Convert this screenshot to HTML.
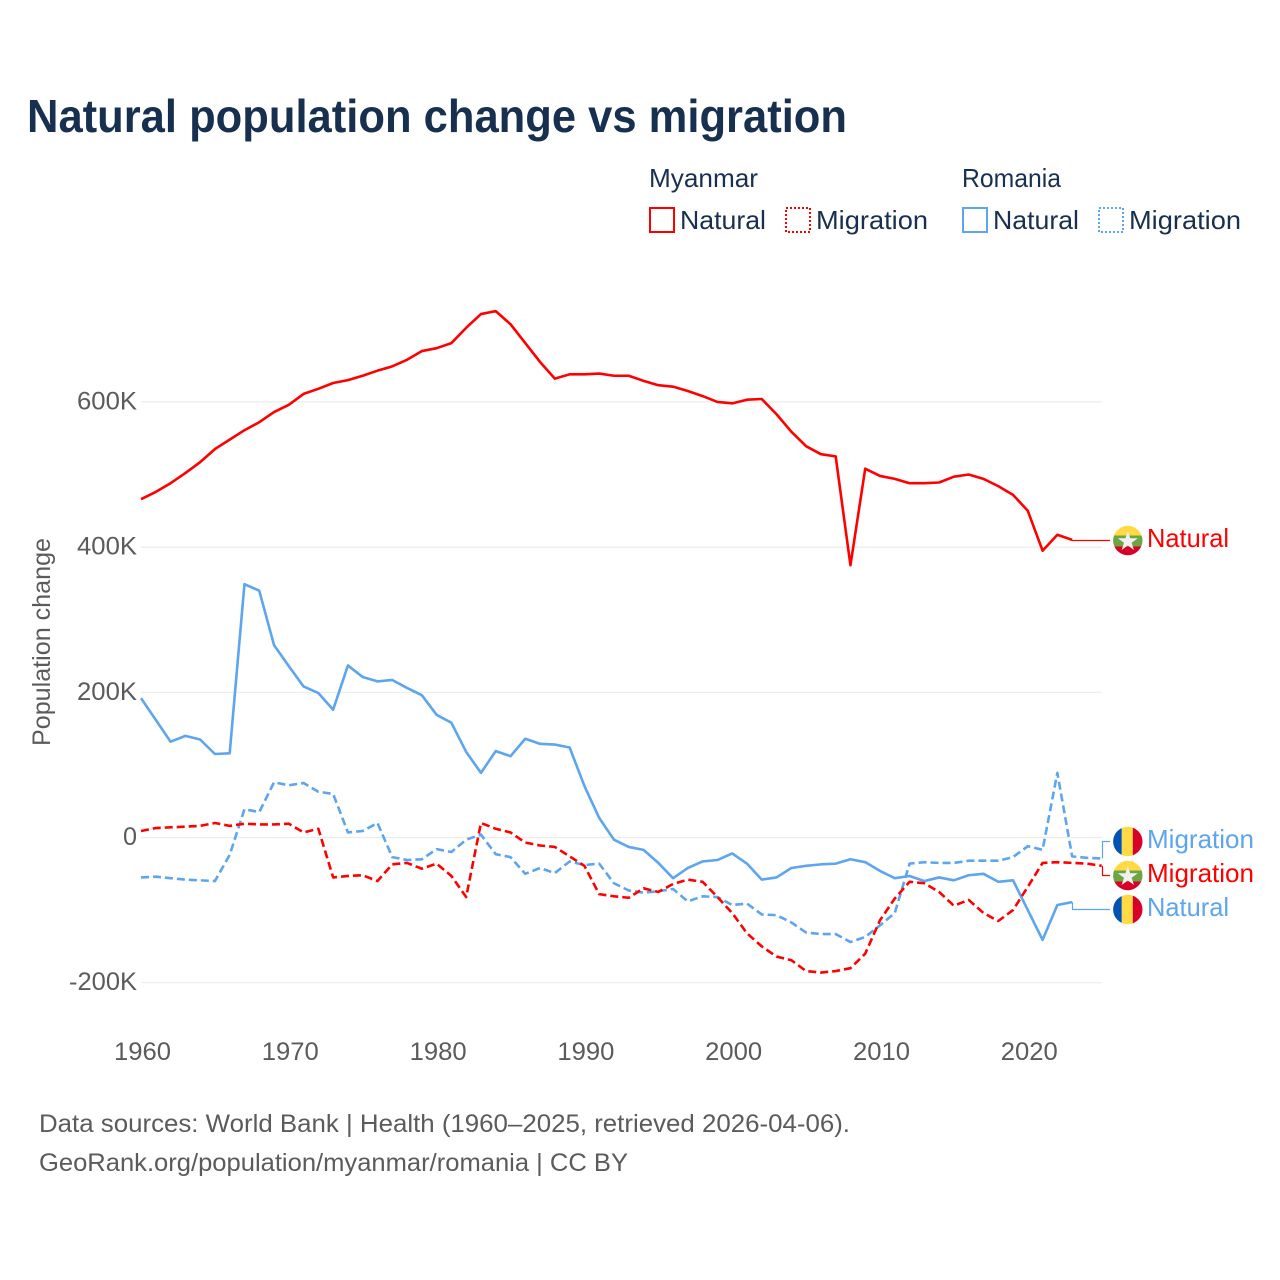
<!DOCTYPE html>
<html lang="en">
<head>
<meta charset="utf-8">
<title>Natural population change vs migration</title>
<style>
html,body{margin:0;padding:0;background:#fff}
svg{display:block}
text{font-family:"Liberation Sans",Arial,sans-serif}
.dark{fill:#18304f;font-size:26px}
.grey{fill:#5b5b5b;font-size:25px}
</style>
</head>
<body>
<svg id="chart" xmlns="http://www.w3.org/2000/svg" width="1280" height="1280" viewBox="0 0 1280 1280">
<defs>
<clipPath id="flag-clip"><circle cx="0" cy="0" r="14.7"/></clipPath>
<g id="flag-mm" clip-path="url(#flag-clip)">
<rect x="-15" y="-15" width="30" height="10" fill="#ffda44"/>
<rect x="-15" y="-5" width="30" height="11" fill="#6da544"/>
<rect x="-15" y="6" width="30" height="10" fill="#d80027"/>
<polygon transform="translate(0,1)" fill="#f0f0f0" points="0,-10.5 2.35,-3.24 9.99,-3.24 3.8,1.24 6.17,8.49 0,4 -6.17,8.49 -3.8,1.24 -9.99,-3.24 -2.35,-3.24"/>
</g>
<g id="flag-ro" clip-path="url(#flag-clip)">
<rect x="-15" y="-15" width="9" height="30" fill="#0052b4"/>
<rect x="-6" y="-15" width="11" height="30" fill="#ffda44"/>
<rect x="5" y="-15" width="10" height="30" fill="#d80027"/>
</g>
</defs>

<text x="27" y="132" font-size="46" font-weight="700" fill="#18304f" textLength="820" lengthAdjust="spacingAndGlyphs">Natural population change vs migration</text>

<g>
<text class="dark" x="649" y="187" textLength="109" lengthAdjust="spacingAndGlyphs">Myanmar</text>
<text class="dark" x="962" y="187" textLength="99" lengthAdjust="spacingAndGlyphs">Romania</text>
<g>
<rect x="650" y="208" width="24" height="24" fill="none" stroke="#ff0000" stroke-width="2"/>
<text class="dark" x="680" y="229" textLength="86" lengthAdjust="spacingAndGlyphs">Natural</text>
</g>
<g>
<rect x="786" y="208" width="24" height="24" fill="none" stroke="#ff0000" stroke-width="2" stroke-dasharray="2,2"/>
<text class="dark" x="816" y="229" textLength="112" lengthAdjust="spacingAndGlyphs">Migration</text>
</g>
<g>
<rect x="963" y="208" width="24" height="24" fill="none" stroke="#5da5ee" stroke-width="2"/>
<text class="dark" x="993" y="229" textLength="86" lengthAdjust="spacingAndGlyphs">Natural</text>
</g>
<g>
<rect x="1099" y="208" width="24" height="24" fill="none" stroke="#5da5ee" stroke-width="2" stroke-dasharray="2,2"/>
<text class="dark" x="1129" y="229" textLength="112" lengthAdjust="spacingAndGlyphs">Migration</text>
</g>
</g>

<text class="grey" transform="translate(50,746) rotate(-90)" x="0" y="0" textLength="208" lengthAdjust="spacingAndGlyphs">Population change</text>

<g id="grid"></g>
<g id="y-ticks"></g>
<g id="x-ticks"></g>
<g id="series"></g>

<text class="grey" x="39" y="1132" textLength="811" lengthAdjust="spacingAndGlyphs">Data sources: World Bank | Health (1960–2025, retrieved 2026-04-06).</text>
<text class="grey" x="39" y="1171" textLength="589" lengthAdjust="spacingAndGlyphs">GeoRank.org/population/myanmar/romania | CC BY</text>
</svg>

<script>
const startYear = 1960;
const yTickValues = [600, 400, 200, 0, -200];
const yTickLabels = ["600K", "400K", "200K", "0", "-200K"];
const xTickYears = [1960, 1970, 1980, 1990, 2000, 2010, 2020];

// Values in thousands of people per year, starting at 1960.
const myanmarNatural = [466,476,488,502,517,535,548,561,572,586,596,611,618,626,630,636,643,649,658,670,674,681,702,721,725,707,681,655,632,638,638,639,636,636,629,623,621,615,608,600,598,603,604,583,559,539,528,525,375,508,498,494,488,488,489,497,500,494,484,472,450,395,417,410];
const myanmarMigration = [9,13,14,15,16,20,16,19,18,18,19,7,12,-55,-53,-52,-60,-37,-35,-43,-36,-53,-82,20,12,7,-7,-11,-13,-26,-39,-78,-81,-83,-70,-75,-64,-58,-61,-82,-104,-132,-150,-164,-169,-184,-186,-184,-180,-160,-114,-84,-61,-63,-75,-94,-86,-104,-115,-100,-68,-35,-34,-35,-36,-39];
const romaniaNatural = [192,162,132,140,135,115,116,349,340,265,236,208,199,176,237,221,215,217,206,196,169,158,118,89,119,112,136,129,128,124,71,27,-3,-13,-17,-35,-56,-42,-33,-31,-22,-36,-58,-55,-42,-39,-37,-36,-30,-34,-46,-56,-53,-60,-55,-59,-52,-50,-61,-59,-100,-141,-93,-89];
const romaniaMigration = [-55,-54,-56,-58,-59,-60,-24,39,35,76,72,75,63,60,7,9,20,-27,-31,-30,-16,-20,-3,4,-23,-27,-50,-42,-49,-33,-38,-36,-63,-73,-76,-74,-71,-88,-81,-82,-93,-91,-106,-107,-117,-131,-133,-133,-144,-137,-121,-104,-36,-34,-35,-35,-32,-32,-32,-27,-12,-17,89,-26,-28,-29];

const SVGNS = "http://www.w3.org/2000/svg";
const plot = { left: 141, right: 1102, yearStep: 14.78, zeroY: 837.5, pxPerK: 0.726 };
const xScale = function (year) { return plot.left + (year - startYear) * plot.yearStep; };
const yScale = function (value) { return plot.zeroY - value * plot.pxPerK; };

function make(tag, attrs, parent, content) {
  const el = document.createElementNS(SVGNS, tag);
  Object.keys(attrs).forEach(function (k) { el.setAttribute(k, attrs[k]); });
  if (content !== undefined) el.textContent = content;
  parent.appendChild(el);
  return el;
}

const gridGroup = document.getElementById("grid");
const yTickGroup = document.getElementById("y-ticks");
const xTickGroup = document.getElementById("x-ticks");
const seriesGroup = document.getElementById("series");

yTickValues.forEach(function (value, i) {
  const y = yScale(value);
  const line = make("line", { x1: plot.left, x2: plot.right, y1: y, y2: y, stroke: "#ececec", "stroke-width": 1.2 }, gridGroup);
  
  
  const label = make("text", { x: 137, y: y + 7.5, "text-anchor": "end", class: "grey", textLength: yTickLabels[i].length === 1 ? 14 : (yTickLabels[i].length === 5 ? 68 : 60), lengthAdjust: "spacingAndGlyphs" }, yTickGroup, yTickLabels[i]);
  
  
});

xTickYears.forEach(function (year) {
  const label = make("text", { x: xScale(year) + 1.5, y: 1060, "text-anchor": "middle", class: "grey", textLength: 57, lengthAdjust: "spacingAndGlyphs" }, xTickGroup, String(year));
  
  
});

function drawSeries(key, values, color, dash, flagId, labelText, labelCenterY, labelWidth) {
  const group = make("g", {}, seriesGroup);
  
  

  const pts = values.map(function (v, i) {
    return xScale(startYear + i).toFixed(2) + "," + yScale(v).toFixed(2);
  }).join(" ");
  const lineAttrs = { points: pts, fill: "none", stroke: color, "stroke-width": 2.6, "stroke-linejoin": "round" };
  if (dash) lineAttrs["stroke-dasharray"] = dash;
  const line = make("polyline", lineAttrs, group);
  
  

  const endX = Math.round(xScale(startYear + values.length - 1)) + 0.5;
  const endY = yScale(values[values.length - 1]);
  const connector = make("polyline", { points: endX + "," + endY + " " + endX + "," + labelCenterY + " 1110," + labelCenterY, fill: "none", stroke: color, "stroke-width": 1.2 }, group);
  
  

  const flag = make("use", { href: "#" + flagId, x: 1127.8, y: labelCenterY }, group);
  
  

  const label = make("text", { x: 1147, y: labelCenterY + 6.5, fill: color, "font-size": 26, textLength: labelWidth, lengthAdjust: "spacingAndGlyphs" }, group, labelText);
  
  
}

drawSeries("romania-migration", romaniaMigration, "#5da5ee", "8,4", "flag-ro", "Migration", 841.5, 107);
drawSeries("romania-natural", romaniaNatural, "#5da5ee", null, "flag-ro", "Natural", 909.5, 82);
drawSeries("myanmar-migration", myanmarMigration, "#ff0000", "8,4", "flag-mm", "Migration", 875.5, 107);
drawSeries("myanmar-natural", myanmarNatural, "#ff0000", null, "flag-mm", "Natural", 540.5, 82);
</script>
</body>
</html>
